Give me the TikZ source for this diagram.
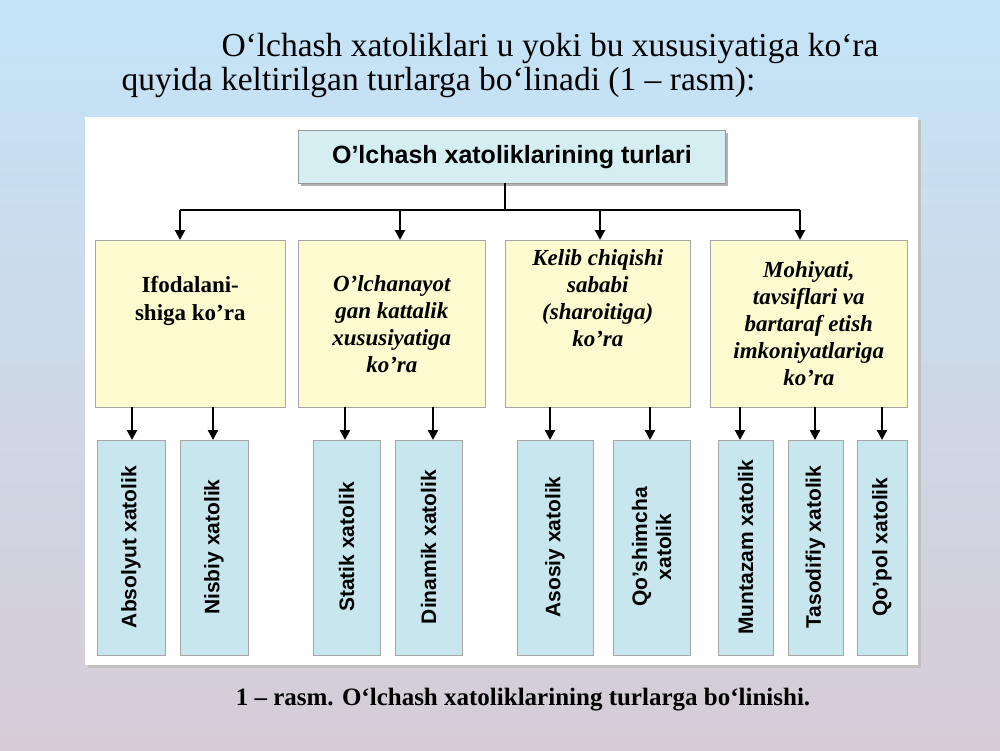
\documentclass[tikz,border=0pt]{standalone}
\usepackage{fontspec}
\setmainfont{Liberation Serif}
\newfontfamily\arialf{Liberation Sans}
\usetikzlibrary{arrows.meta}
\definecolor{ybox}{HTML}{FBFBCF}
\definecolor{bbox}{HTML}{C8E6EE}
\definecolor{tbox}{HTML}{D4EEF2}
\definecolor{bgtop}{HTML}{C4E4F8}
\definecolor{bgbot}{HTML}{D6CCD6}
\tikzset{
 ybx/.style={draw=gray!70,fill=ybox,line width=0.6pt,font=\fontsize{23}{27}\selectfont\bfseries\itshape,align=center},
 bbx/.style={draw=gray!70,fill=bbox,line width=0.6pt},
 btxt/.style={rotate=90,font=\arialf\fontsize{21}{24}\selectfont\bfseries,align=center},
 arr/.style={-{Triangle[length=10pt,width=10pt]},line width=2.2pt}
}
\begin{document}
\begin{tikzpicture}[x=1pt,y=-1pt]
\shade[top color=bgtop,bottom color=bgbot] (0,0) rectangle (1000,750);
\useasboundingbox (0,0) rectangle (1000,750);
\node[anchor=west,font=\fontsize{33.5}{36}\selectfont] (t1) at (218,48) {O‘lchash xatoliklari u yoki bu xususiyatiga ko‘ra};
\node[anchor=west,font=\fontsize{33.5}{36}\selectfont] (t2) at (118,82) {quyida keltirilgan turlarga bo‘linadi (1 – rasm):};
\fill[gray!50] (88,120) rectangle (921,668);
\fill[white] (85,117) rectangle (918,665);
\fill[gray!60] (301,133) rectangle (728,186);
\node[draw=gray!80,fill=tbox,line width=1pt,minimum width=427,minimum height=53,anchor=north west,font=\arialf\fontsize{25}{28}\selectfont\bfseries] (top) at (298,130) {O’lchash xatoliklarining turlari};
\coordinate (j) at (505,210);
\draw[line width=2.2pt] (505,183) -- (j);
\draw[line width=2.2pt] (180,210) -- (800,210);
\node[ybx,minimum width=190,minimum height=167,anchor=north west,font=\fontsize{23}{28}\selectfont\bfseries] (y1) at (95,240) {Ifodalani-\\shiga ko’ra\\[22pt]};
\node[ybx,minimum width=187,minimum height=167,anchor=north west] (y2) at (298,240) {O’lchanayot\\gan kattalik\\xususiyatiga\\ko’ra};
\node[ybx,minimum width=185,minimum height=167,anchor=north west] (y3) at (505,240) {Kelib chiqishi\\sababi\\(sharoitiga)\\ko’ra\\[24pt]};
\node[ybx,minimum width=197,minimum height=167,anchor=north west] (y4) at (710,240) {Mohiyati,\\tavsiflari va\\bartaraf etish\\imkoniyatlariga\\ko’ra};
\foreach \x in {180,400,600,800} \draw[arr] (\x,210) -- (\x,240);
\foreach \n/\a/\b/\t in {b1/97/165/Absolyut xatolik,b2/180/248/Nisbiy xatolik,b3/313/380/Statik xatolik,b4/395/462/Dinamik xatolik,b5/517/593/Asosiy xatolik,b6/613/690/{Qo’shimcha\\xatolik},b7/718/773/Muntazam xatolik,b8/788/843/Tasodifiy xatolik,b9/857/907/Qo’pol xatolik}{
  \draw[bbx] (\a,440) rectangle (\b,655);
  \node[btxt] (\n) at ({(\a+\b)/2},547) {\t};
}
\foreach \x in {132,213,345,433,550,650,740,815,882} \draw[arr] (\x,407) -- (\x,440);
\node[font=\fontsize{25}{28}\selectfont\bfseries] (cap) at (523,700) {1 – rasm. O‘lchash xatoliklarining turlarga bo‘linishi.};
\end{tikzpicture}
\end{document}
